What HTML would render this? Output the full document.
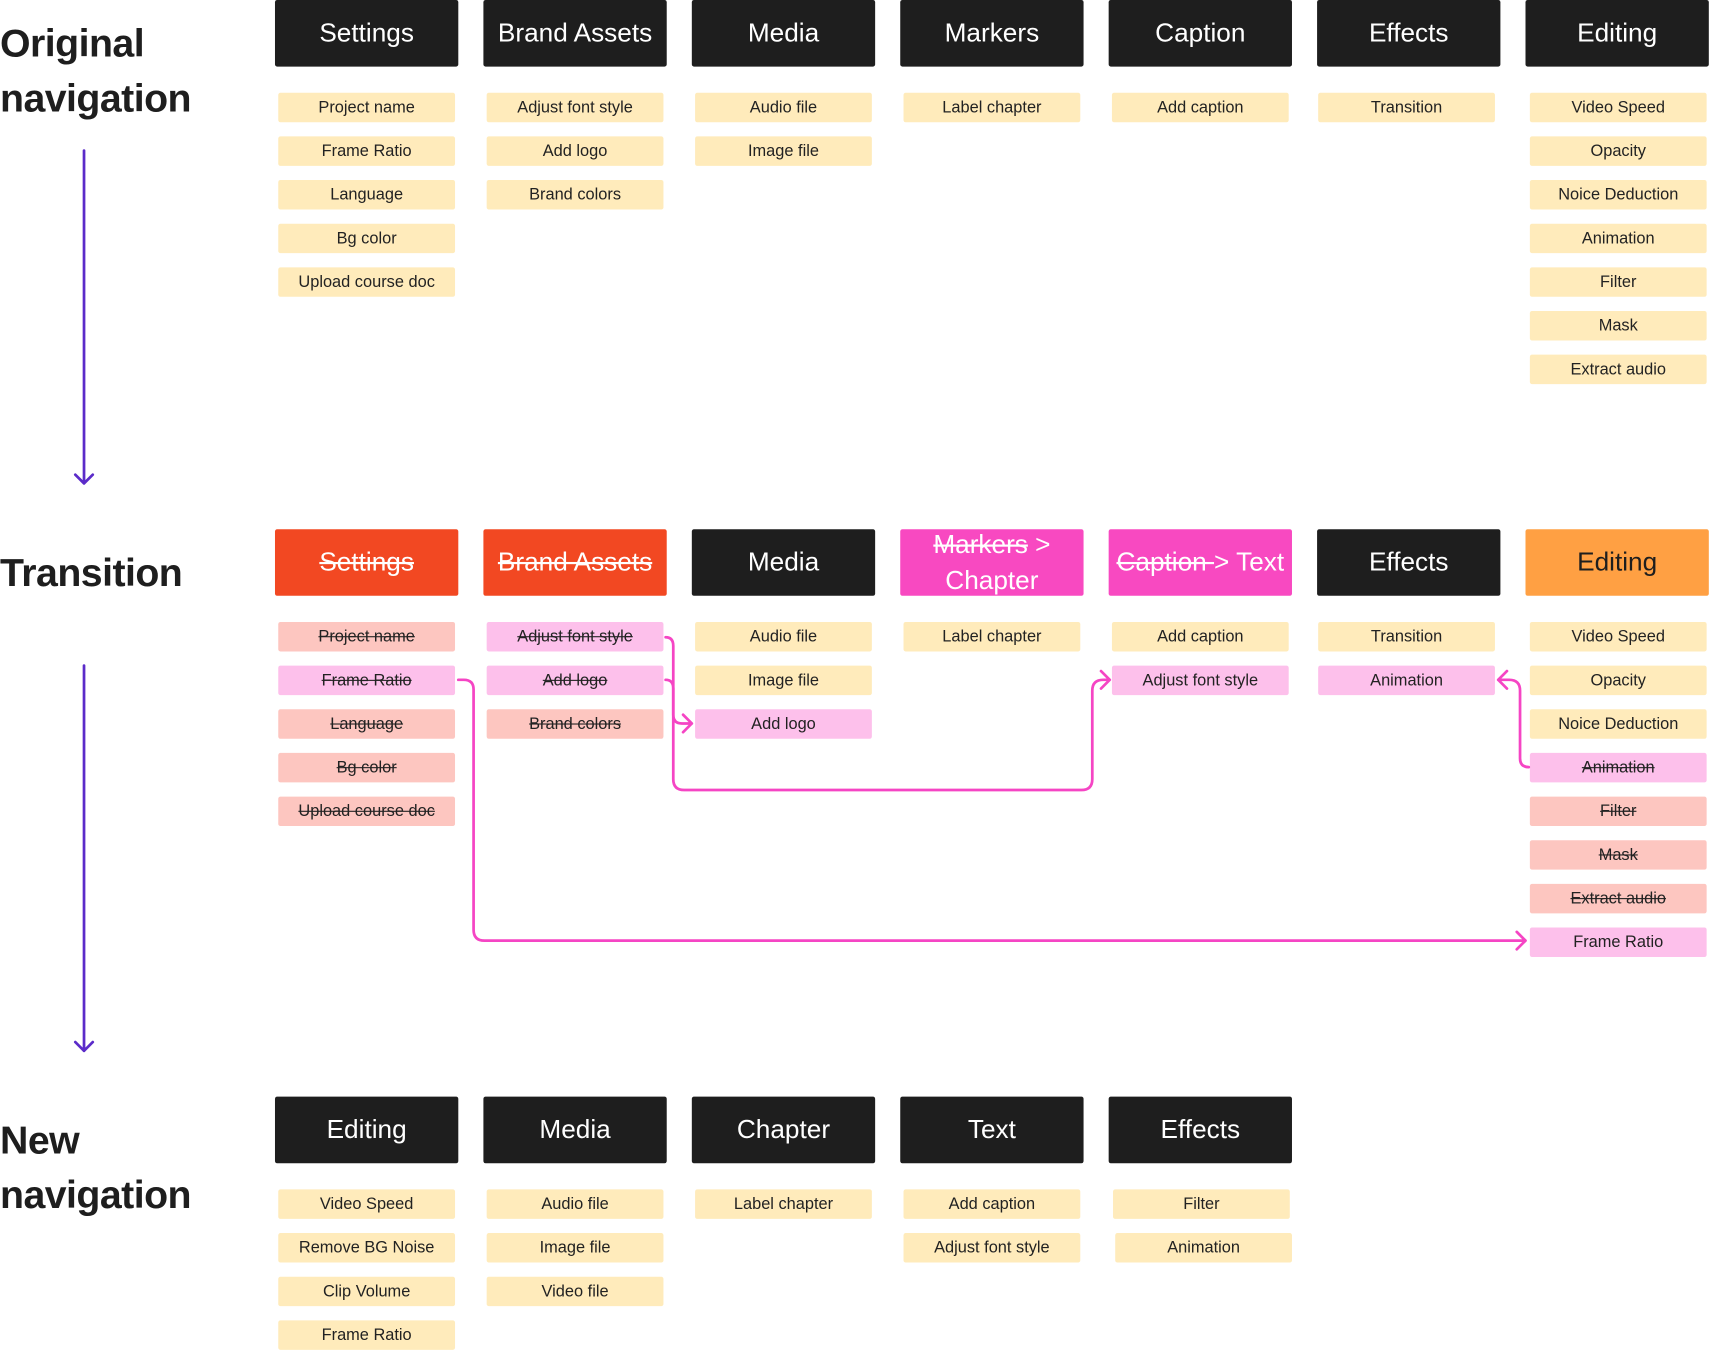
<!DOCTYPE html>
<html><head><meta charset="utf-8"><style>
html,body{margin:0;padding:0;background:#fff;}
body{width:1711px;height:1350px;overflow:hidden;position:relative;font-family:"Liberation Sans",sans-serif;}
#w{position:absolute;left:0;top:0;width:1568px;height:1237px;transform:scale(1.0912);transform-origin:0 0;}
.h{position:absolute;width:168px;height:61px;background:#1e1e1e;color:#fff;font-size:24px;display:flex;align-items:center;justify-content:center;text-align:center;border-radius:2px;line-height:33px;}
.s{position:absolute;width:162px;height:27px;background:#ffebbb;color:#222;font-size:15px;display:flex;align-items:center;justify-content:center;border-radius:2px;}
.p{background:#fdc0eb;}
.r{background:#fdc6c0;}
.x{text-decoration:line-through;}
.t{position:absolute;left:0;font-size:36px;font-weight:bold;color:#1e1e1e;line-height:50px;letter-spacing:-0.5px;}
svg{position:absolute;left:0;top:0;}
</style></head><body><div id="w">
<div class="t" style="top:15px">Original<br>navigation</div>
<div class="t" style="top:500px">Transition</div>
<div class="t" style="top:1020px">New<br>navigation</div>

<!-- Original -->
<div class="h" style="left:252px;top:0">Settings</div>
<div class="h" style="left:443px;top:0">Brand Assets</div>
<div class="h" style="left:634px;top:0">Media</div>
<div class="h" style="left:825px;top:0">Markers</div>
<div class="h" style="left:1016px;top:0">Caption</div>
<div class="h" style="left:1207px;top:0">Effects</div>
<div class="h" style="left:1398px;top:0">Editing</div>

<div class="s" style="left:255px;top:85px">Project name</div>
<div class="s" style="left:255px;top:125px">Frame Ratio</div>
<div class="s" style="left:255px;top:165px">Language</div>
<div class="s" style="left:255px;top:205px">Bg color</div>
<div class="s" style="left:255px;top:245px">Upload course doc</div>
<div class="s" style="left:446px;top:85px">Adjust font style</div>
<div class="s" style="left:446px;top:125px">Add logo</div>
<div class="s" style="left:446px;top:165px">Brand colors</div>
<div class="s" style="left:637px;top:85px">Audio file</div>
<div class="s" style="left:637px;top:125px">Image file</div>
<div class="s" style="left:828px;top:85px">Label chapter</div>
<div class="s" style="left:1019px;top:85px">Add caption</div>
<div class="s" style="left:1208px;top:85px">Transition</div>
<div class="s" style="left:1402px;top:85px">Video Speed</div>
<div class="s" style="left:1402px;top:125px">Opacity</div>
<div class="s" style="left:1402px;top:165px">Noice Deduction</div>
<div class="s" style="left:1402px;top:205px">Animation</div>
<div class="s" style="left:1402px;top:245px">Filter</div>
<div class="s" style="left:1402px;top:285px">Mask</div>
<div class="s" style="left:1402px;top:325px">Extract audio</div>

<!-- Transition -->
<div class="h" style="left:252px;top:485px;background:#f24822"><span class="x">Settings</span></div>
<div class="h" style="left:443px;top:485px;background:#f24822"><span class="x">Brand Assets</span></div>
<div class="h" style="left:634px;top:485px">Media</div>
<div class="h" style="left:825px;top:485px;background:#f849c1"><span><span class="x">Markers</span> &gt;<br>Chapter</span></div>
<div class="h" style="left:1016px;top:485px;background:#f849c1"><span><span class="x">Caption </span>&gt; Text</span></div>
<div class="h" style="left:1207px;top:485px">Effects</div>
<div class="h" style="left:1398px;top:485px;background:#ffa043;color:#1e1e1e">Editing</div>

<div class="s r x" style="left:255px;top:570px">Project name</div>
<div class="s p x" style="left:255px;top:610px">Frame Ratio</div>
<div class="s r x" style="left:255px;top:650px">Language</div>
<div class="s r x" style="left:255px;top:690px">Bg color</div>
<div class="s r x" style="left:255px;top:730px">Upload course doc</div>
<div class="s p x" style="left:446px;top:570px">Adjust font style</div>
<div class="s p x" style="left:446px;top:610px">Add logo</div>
<div class="s r x" style="left:446px;top:650px">Brand colors</div>
<div class="s" style="left:637px;top:570px">Audio file</div>
<div class="s" style="left:637px;top:610px">Image file</div>
<div class="s p" style="left:637px;top:650px">Add logo</div>
<div class="s" style="left:828px;top:570px">Label chapter</div>
<div class="s" style="left:1019px;top:570px">Add caption</div>
<div class="s p" style="left:1019px;top:610px">Adjust font style</div>
<div class="s" style="left:1208px;top:570px">Transition</div>
<div class="s p" style="left:1208px;top:610px">Animation</div>
<div class="s" style="left:1402px;top:570px">Video Speed</div>
<div class="s" style="left:1402px;top:610px">Opacity</div>
<div class="s" style="left:1402px;top:650px">Noice Deduction</div>
<div class="s p x" style="left:1402px;top:690px">Animation</div>
<div class="s r x" style="left:1402px;top:730px">Filter</div>
<div class="s r x" style="left:1402px;top:770px">Mask</div>
<div class="s r x" style="left:1402px;top:810px">Extract audio</div>
<div class="s p" style="left:1402px;top:850px">Frame Ratio</div>

<!-- New -->
<div class="h" style="left:252px;top:1005px">Editing</div>
<div class="h" style="left:443px;top:1005px">Media</div>
<div class="h" style="left:634px;top:1005px">Chapter</div>
<div class="h" style="left:825px;top:1005px">Text</div>
<div class="h" style="left:1016px;top:1005px">Effects</div>

<div class="s" style="left:255px;top:1090px">Video Speed</div>
<div class="s" style="left:255px;top:1130px">Remove BG Noise</div>
<div class="s" style="left:255px;top:1170px">Clip Volume</div>
<div class="s" style="left:255px;top:1210px">Frame Ratio</div>
<div class="s" style="left:446px;top:1090px">Audio file</div>
<div class="s" style="left:446px;top:1130px">Image file</div>
<div class="s" style="left:446px;top:1170px">Video file</div>
<div class="s" style="left:637px;top:1090px">Label chapter</div>
<div class="s" style="left:828px;top:1090px">Add caption</div>
<div class="s" style="left:828px;top:1130px">Adjust font style</div>
<div class="s" style="left:1020px;top:1090px">Filter</div>
<div class="s" style="left:1022px;top:1130px">Animation</div>

<svg width="1568" height="1237" viewBox="0 0 1568 1237" fill="none">
<g stroke="#5b2bc9" stroke-width="2.5" stroke-linecap="round" stroke-linejoin="round">
<path d="M77 138V443M69 435l8 8 8-8"/>
<path d="M77 610V963M69 955l8 8 8-8"/>
</g>
<g stroke="#f545c4" stroke-width="2.5" stroke-linecap="round" stroke-linejoin="round">
<path d="M610 584q7 0 7 8V714q0 10 10 10H991q10 0 10-10V633q0-10 10-10h5M1009 615l8 8-8 8"/>
<path d="M610 623q7 0 7 8V655q0 8 8 8h9M626 655l8 8-8 8"/>
<path d="M420 623h5q9 0 9 9V852q0 10 10 10H1398M1390 854l8 8-8 8"/>
<path d="M1401 703q-8 0-8-8V633q0-10-10-10h-10M1381 615l-8 8 8 8"/>
</g>
</svg>
</div></body></html>
